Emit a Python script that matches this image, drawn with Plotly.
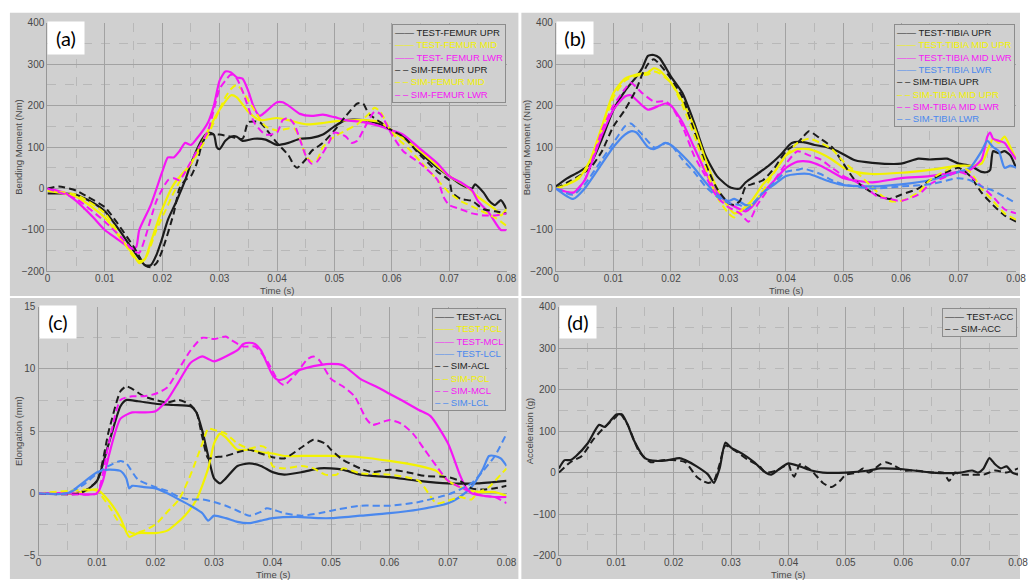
import plotly.graph_objects as go

# ---------------- Panel (a): femur bending moment (Nm) ----------------
a_test_upr_t = [0, 0.003, 0.005, 0.008, 0.010, 0.0125, 0.015, 0.017, 0.018, 0.019, 0.020, 0.021, 0.0225, 0.024, 0.025, 0.027, 0.028, 0.029, 0.0295, 0.030, 0.031, 0.032, 0.033, 0.034, 0.036, 0.038, 0.040, 0.042, 0.044, 0.046, 0.048, 0.050, 0.052, 0.055, 0.058, 0.060, 0.062, 0.065, 0.068, 0.070, 0.072, 0.074, 0.0745, 0.076, 0.077, 0.078, 0.079, 0.080]
a_test_upr_v = [-12, -12, -15, -35, -55, -100, -150, -185, -185, -160, -120, -75, -30, 20, 60, 120, 135, 130, 100, 95, 115, 125, 125, 115, 120, 118, 105, 110, 120, 122, 130, 150, 165, 165, 155, 140, 125, 85, 50, 30, 10, 0, 10, -10, -30, -40, -28, -50]

a_test_mid_t = [0, 0.005, 0.010, 0.013, 0.015, 0.016, 0.017, 0.018, 0.020, 0.022, 0.025, 0.028, 0.030, 0.032, 0.033, 0.035, 0.037, 0.040, 0.042, 0.045, 0.048, 0.050, 0.055, 0.058, 0.060, 0.065, 0.070, 0.073, 0.075, 0.078, 0.079, 0.080]
a_test_mid_v = [-5, -20, -70, -125, -160, -180, -170, -130, -50, 10, 60, 140, 190, 225, 220, 185, 165, 170, 165, 155, 158, 162, 165, 160, 140, 90, 30, 5, -20, -50, -65, -50]

a_test_lwr_t = [0, 0.003, 0.005, 0.008, 0.010, 0.012, 0.014, 0.015, 0.0155, 0.016, 0.018, 0.020, 0.021, 0.022, 0.023, 0.024, 0.025, 0.026, 0.028, 0.029, 0.030, 0.031, 0.032, 0.033, 0.034, 0.035, 0.036, 0.037, 0.038, 0.040, 0.041, 0.042, 0.044, 0.046, 0.048, 0.050, 0.052, 0.055, 0.058, 0.060, 0.062, 0.065, 0.068, 0.070, 0.072, 0.074, 0.075, 0.077, 0.079, 0.080]
a_test_lwr_v = [0, -10, -30, -70, -100, -120, -140, -145, -140, -100, -40, 40, 75, 75, 90, 110, 105, 120, 160, 200, 260, 282, 280, 268, 265, 235, 195, 175, 185, 208, 208, 200, 180, 175, 178, 172, 165, 160, 150, 140, 130, 95, 60, 30, 15, -5, -30, -60, -100, -100]

a_sim_upr_t = [0, 0.002, 0.005, 0.007, 0.010, 0.012, 0.015, 0.017, 0.018, 0.019, 0.020, 0.022, 0.023, 0.024, 0.025, 0.026, 0.027, 0.028, 0.030, 0.032, 0.034, 0.035, 0.037, 0.038, 0.040, 0.042, 0.043, 0.0435, 0.045, 0.046, 0.048, 0.050, 0.052, 0.054, 0.055, 0.056, 0.058, 0.060, 0.062, 0.065, 0.068, 0.070, 0.0705, 0.072, 0.074, 0.076, 0.078, 0.080]
a_sim_upr_v = [0, 5, -5, -20, -45, -80, -140, -185, -190, -180, -150, -60, 0, 20, 30, 60, 110, 130, 130, 125, 120, 160, 160, 145, 110, 80, 55, 50, 70, 90, 110, 140, 175, 205, 205, 180, 160, 140, 125, 80, 40, 20, -10, -25, -30, -50, -55, -60]

a_sim_mid_t = [0, 0.005, 0.010, 0.015, 0.016, 0.017, 0.019, 0.021, 0.022, 0.024, 0.026, 0.028, 0.030, 0.031, 0.032, 0.033, 0.034, 0.036, 0.038, 0.040, 0.042, 0.043, 0.044, 0.045, 0.046, 0.047, 0.048, 0.050, 0.052, 0.054, 0.056, 0.057, 0.058, 0.060, 0.063, 0.065, 0.068, 0.070, 0.072, 0.075, 0.078, 0.080]
a_sim_mid_v = [-5, -15, -60, -165, -175, -170, -100, -40, -10, 40, 80, 130, 190, 220, 240, 250, 235, 190, 150, 140, 145, 145, 120, 80, 65, 70, 100, 125, 140, 155, 180, 195, 185, 135, 95, 65, 20, -10, -30, -50, -70, -90]

a_sim_lwr_t = [0, 0.005, 0.010, 0.013, 0.015, 0.016, 0.017, 0.019, 0.021, 0.022, 0.023, 0.024, 0.026, 0.028, 0.030, 0.031, 0.032, 0.033, 0.034, 0.036, 0.038, 0.040, 0.041, 0.042, 0.043, 0.045, 0.046, 0.047, 0.049, 0.050, 0.052, 0.053, 0.054, 0.055, 0.057, 0.058, 0.060, 0.062, 0.065, 0.068, 0.069, 0.070, 0.072, 0.074, 0.076, 0.078, 0.080]
a_sim_lwr_v = [0, -25, -80, -120, -150, -155, -120, -30, 20, 25, 20, 40, 90, 140, 240, 260, 275, 265, 235, 160, 130, 135, 165, 170, 155, 80, 60, 65, 110, 135, 125, 110, 115, 140, 185, 180, 130, 90, 60, 20, -20, -40, -50, -60, -65, -65, -60]

# ---------------- Panel (b): tibia bending moment (Nm) ----------------
b_test_upr_t = [0, 0.002, 0.004, 0.006, 0.008, 0.010, 0.012, 0.014, 0.015, 0.016, 0.017, 0.018, 0.020, 0.022, 0.024, 0.026, 0.028, 0.030, 0.031, 0.032, 0.033, 0.035, 0.037, 0.039, 0.041, 0.043, 0.045, 0.047, 0.049, 0.052, 0.055, 0.060, 0.063, 0.065, 0.068, 0.070, 0.072, 0.074, 0.075, 0.0755, 0.076, 0.077, 0.078, 0.079, 0.080]
b_test_upr_v = [5, 25, 40, 60, 120, 190, 235, 270, 290, 320, 322, 315, 270, 230, 160, 80, 30, 5, 0, 0, 15, 35, 55, 80, 110, 112, 105, 100, 90, 68, 62, 60, 72, 70, 72, 60, 55, 40, 40, 45, 90, 85, 90, 80, 50]

b_test_midupr_t = [0, 0.002, 0.004, 0.006, 0.008, 0.010, 0.012, 0.014, 0.016, 0.017, 0.018, 0.020, 0.022, 0.024, 0.026, 0.028, 0.030, 0.031, 0.032, 0.034, 0.036, 0.038, 0.040, 0.042, 0.044, 0.046, 0.048, 0.050, 0.052, 0.055, 0.060, 0.065, 0.070, 0.072, 0.074, 0.075, 0.076, 0.077, 0.078, 0.079, 0.080]
b_test_midupr_v = [0, 10, 25, 70, 150, 230, 265, 275, 280, 290, 285, 255, 210, 150, 70, 0, -45, -60, -55, -30, 10, 40, 80, 95, 95, 85, 70, 50, 40, 35, 38, 45, 55, 55, 60, 90, 120, 110, 125, 100, 70]

b_test_midlwr_t = [0, 0.003, 0.005, 0.008, 0.010, 0.012, 0.013, 0.015, 0.016, 0.018, 0.019, 0.020, 0.022, 0.024, 0.026, 0.028, 0.030, 0.032, 0.033, 0.034, 0.036, 0.038, 0.040, 0.042, 0.044, 0.046, 0.048, 0.050, 0.055, 0.060, 0.065, 0.070, 0.072, 0.074, 0.075, 0.0755, 0.076, 0.077, 0.078, 0.079, 0.080]
b_test_midlwr_v = [0, -10, 20, 130, 190, 222, 225, 200, 190, 200, 205, 200, 160, 100, 40, -10, -35, -50, -55, -45, -10, 20, 50, 65, 65, 55, 40, 25, 15, 25, 30, 40, 45, 70, 125, 135, 120, 115, 110, 90, 70]

b_test_lwr_t = [0, 0.003, 0.005, 0.008, 0.010, 0.012, 0.013, 0.014, 0.016, 0.017, 0.019, 0.020, 0.022, 0.024, 0.026, 0.028, 0.030, 0.031, 0.033, 0.034, 0.036, 0.038, 0.040, 0.042, 0.044, 0.046, 0.048, 0.050, 0.055, 0.060, 0.065, 0.070, 0.072, 0.074, 0.075, 0.076, 0.077, 0.078, 0.079, 0.080]
b_test_lwr_v = [0, -25, 0, 60, 100, 130, 138, 135, 100, 95, 110, 105, 80, 50, 15, -15, -30, -25, -40, -40, -10, 10, 30, 35, 35, 25, 15, 8, 5, 10, 20, 40, 50, 90, 115, 100, 90, 50, 55, 50]

b_sim_upr_t = [0, 0.002, 0.004, 0.006, 0.008, 0.010, 0.012, 0.014, 0.015, 0.016, 0.017, 0.018, 0.020, 0.022, 0.024, 0.026, 0.028, 0.030, 0.031, 0.032, 0.033, 0.034, 0.036, 0.038, 0.040, 0.042, 0.043, 0.044, 0.046, 0.048, 0.050, 0.052, 0.055, 0.058, 0.060, 0.063, 0.065, 0.068, 0.070, 0.072, 0.074, 0.076, 0.078, 0.080]
b_sim_upr_v = [0, 15, 30, 50, 90, 150, 190, 240, 275, 300, 312, 300, 265, 220, 140, 60, 0, -35, -40, -30, 5, 10, 20, 50, 90, 110, 125, 138, 120, 100, 60, 20, -10, -25, -15, 0, 20, 40, 50, 30, -10, -40, -65, -80]

b_sim_midupr_t = [0, 0.002, 0.005, 0.008, 0.010, 0.012, 0.014, 0.016, 0.017, 0.018, 0.020, 0.022, 0.024, 0.026, 0.028, 0.030, 0.031, 0.032, 0.034, 0.036, 0.038, 0.040, 0.042, 0.044, 0.046, 0.048, 0.050, 0.053, 0.056, 0.058, 0.060, 0.063, 0.065, 0.068, 0.070, 0.072, 0.074, 0.076, 0.078, 0.080]
b_sim_midupr_v = [0, 10, 40, 140, 220, 260, 272, 275, 282, 278, 255, 200, 130, 50, -20, -60, -70, -55, -40, -5, 40, 80, 110, 120, 110, 95, 65, 30, -10, -30, -30, -10, 20, 45, 55, 40, 0, -30, -60, -75]

b_sim_midlwr_t = [0, 0.003, 0.005, 0.008, 0.010, 0.012, 0.013, 0.015, 0.017, 0.019, 0.020, 0.022, 0.024, 0.026, 0.028, 0.030, 0.032, 0.0335, 0.035, 0.037, 0.040, 0.042, 0.044, 0.046, 0.048, 0.050, 0.053, 0.056, 0.058, 0.060, 0.063, 0.065, 0.068, 0.070, 0.072, 0.074, 0.076, 0.078, 0.080]
b_sim_midlwr_v = [0, -10, 20, 140, 200, 240, 255, 230, 210, 210, 200, 150, 80, 30, -20, -45, -60, -80, -40, 0, 60, 90, 80, 70, 50, 30, 10, -20, -25, -30, -15, 10, 30, 40, 30, 5, -20, -50, -60]

b_sim_lwr_t = [0, 0.003, 0.005, 0.008, 0.010, 0.012, 0.013, 0.015, 0.017, 0.018, 0.019, 0.020, 0.022, 0.024, 0.026, 0.028, 0.030, 0.032, 0.033, 0.034, 0.036, 0.038, 0.040, 0.042, 0.043, 0.046, 0.048, 0.050, 0.055, 0.060, 0.065, 0.070, 0.072, 0.074, 0.076, 0.078, 0.080]
b_sim_lwr_v = [0, -15, 10, 70, 110, 150, 157, 130, 100, 100, 110, 105, 70, 40, 5, -20, -35, -40, -50, -40, -10, 15, 40, 45, 48, 35, 20, 10, 0, 5, 10, 25, 20, 5, -5, -20, -35]

# ---------------- Panel (c): ligament elongation (mm) ----------------
c_test_acl_t = [0, 0.006, 0.008, 0.010, 0.012, 0.014, 0.015, 0.017, 0.020, 0.023, 0.026, 0.027, 0.028, 0.029, 0.030, 0.031, 0.032, 0.034, 0.036, 0.038, 0.040, 0.042, 0.045, 0.048, 0.050, 0.052, 0.055, 0.060, 0.065, 0.070, 0.075, 0.080]
c_test_acl_v = [0, 0, 0.2, 1.0, 4.0, 7.0, 7.5, 7.4, 7.2, 7.1, 7.0, 6.5, 5.0, 3.0, 1.2, 0.8, 1.2, 2.2, 2.4, 2.2, 1.7, 1.5, 1.7, 2.0, 2.0, 1.9, 1.5, 1.3, 1.0, 0.8, 0.8, 1.0]

c_test_pcl_t = [0, 0.006, 0.010, 0.012, 0.014, 0.0155, 0.017, 0.020, 0.022, 0.025, 0.027, 0.029, 0.030, 0.031, 0.032, 0.034, 0.036, 0.038, 0.040, 0.042, 0.045, 0.050, 0.055, 0.060, 0.065, 0.068, 0.070, 0.072, 0.074, 0.076, 0.078, 0.080]
c_test_pcl_v = [0, 0, 0.3, -0.6, -2.0, -3.5, -3.2, -3.2, -3.0, -1.8, -0.5, 2.0, 4.0, 4.8, 4.5, 3.5, 3.5, 3.3, 3.2, 3.0, 3.0, 3.0, 2.9, 2.6, 2.2, 1.8, 1.0, 0.5, 0.2, 0.1, 0.1, -0.2]

c_test_mcl_t = [0, 0.006, 0.008, 0.010, 0.011, 0.012, 0.014, 0.016, 0.018, 0.020, 0.022, 0.024, 0.026, 0.028, 0.029, 0.030, 0.032, 0.034, 0.035, 0.036, 0.037, 0.038, 0.040, 0.041, 0.042, 0.044, 0.046, 0.048, 0.050, 0.052, 0.055, 0.058, 0.060, 0.062, 0.065, 0.067, 0.070, 0.072, 0.073, 0.074, 0.076, 0.078, 0.080]
c_test_mcl_v = [0, 0, -0.1, 0, 1.0, 3.0, 6.0, 6.5, 6.5, 6.6, 7.5, 9.0, 10.5, 11.0, 10.8, 10.6, 11.0, 11.5, 12.0, 12.1, 12.0, 11.5, 9.5, 9.1, 9.2, 9.8, 10.1, 10.3, 10.4, 10.3, 9.2, 8.5, 8.0, 7.5, 6.7, 6.2, 4.0, 1.5, 0.5, 0.0, -0.2, -0.3, -0.3]

c_test_lcl_t = [0, 0.005, 0.008, 0.010, 0.012, 0.014, 0.015, 0.0155, 0.016, 0.018, 0.020, 0.022, 0.024, 0.026, 0.028, 0.029, 0.030, 0.032, 0.034, 0.036, 0.038, 0.040, 0.044, 0.048, 0.050, 0.055, 0.060, 0.065, 0.070, 0.072, 0.074, 0.076, 0.077, 0.078, 0.079, 0.080]
c_test_lcl_v = [0, 0, 1.0, 1.7, 1.9, 1.8, 1.2, 0.4, 0.6, 0.5, 0.4, 0.0, -0.5, -1.0, -1.6, -2.2, -1.8, -2.0, -2.3, -2.4, -2.2, -2.0, -1.9, -2.0, -2.0, -1.8, -1.6, -1.3, -0.8, -0.3, 0.5, 2.0, 3.0, 3.0, 2.8, 2.2]

c_sim_acl_t = [0, 0.007, 0.010, 0.012, 0.014, 0.015, 0.016, 0.018, 0.020, 0.022, 0.024, 0.026, 0.027, 0.028, 0.029, 0.030, 0.032, 0.034, 0.036, 0.038, 0.040, 0.042, 0.045, 0.047, 0.049, 0.050, 0.052, 0.055, 0.057, 0.060, 0.063, 0.066, 0.070, 0.072, 0.074, 0.076, 0.078, 0.080]
c_sim_acl_v = [0, 0, 1.0, 5.0, 8.2, 8.6, 8.4, 7.8, 7.5, 7.3, 7.5, 7.1, 6.5, 4.5, 2.8, 2.9, 3.0, 3.3, 3.5, 3.2, 2.9, 2.8, 3.7, 4.3, 4.0, 3.5, 2.7, 2.0, 1.7, 1.9, 1.7, 1.4, 1.3, 1.0, 0.4, 0.3, 0.4, 0.6]

c_sim_pcl_t = [0, 0.009, 0.010, 0.012, 0.014, 0.016, 0.018, 0.020, 0.022, 0.024, 0.026, 0.028, 0.029, 0.030, 0.032, 0.034, 0.036, 0.038, 0.039, 0.040, 0.042, 0.045, 0.047, 0.049, 0.051, 0.052, 0.055, 0.060, 0.065, 0.068, 0.070, 0.072, 0.074, 0.075, 0.077, 0.079, 0.080]
c_sim_pcl_v = [0, 0.3, 0.2, -1.0, -2.5, -3.2, -3.0, -2.5, -1.5, -0.5, 1.5, 4.0, 5.2, 5.1, 4.8, 4.0, 3.6, 3.8, 3.6, 2.2, 2.0, 2.2, 2.0, 1.5, 1.5, 2.0, 1.6, 1.5, 1.0, -0.8, -0.6, -0.3, -0.5, 0.0, 0.5, 1.5, 2.0]

c_sim_mcl_t = [0, 0.008, 0.010, 0.012, 0.014, 0.016, 0.018, 0.020, 0.022, 0.024, 0.026, 0.028, 0.030, 0.032, 0.033, 0.035, 0.037, 0.039, 0.041, 0.042, 0.044, 0.046, 0.047, 0.048, 0.050, 0.052, 0.054, 0.056, 0.057, 0.058, 0.060, 0.062, 0.064, 0.066, 0.068, 0.070, 0.072, 0.074, 0.076, 0.078, 0.080]
c_sim_mcl_v = [0, -0.1, 0, 4.0, 7.5, 7.8, 7.8, 8.0, 8.5, 10.0, 11.5, 12.5, 12.4, 12.6, 12.3, 11.8, 11.8, 10.7, 9.0, 8.7, 9.6, 10.8, 11.0, 10.7, 9.2, 8.6, 7.8, 6.0, 5.5, 5.6, 5.9, 5.6, 4.8, 3.5, 2.2, 1.0, 0.5, 0.1, -0.2, -0.3, -0.8]

c_sim_lcl_t = [0, 0.005, 0.008, 0.010, 0.012, 0.014, 0.015, 0.017, 0.020, 0.022, 0.024, 0.026, 0.028, 0.030, 0.032, 0.034, 0.036, 0.038, 0.039, 0.040, 0.042, 0.045, 0.048, 0.050, 0.055, 0.060, 0.065, 0.070, 0.072, 0.074, 0.076, 0.078, 0.080]
c_sim_lcl_v = [0, 0, 0.8, 1.6, 2.2, 2.6, 2.4, 1.1, 0.5, 0.2, -0.3, -0.5, -0.5, -0.7, -1.0, -1.4, -1.8, -1.5, -1.2, -1.3, -1.6, -1.8, -1.6, -1.4, -1.0, -1.0, -0.7, -0.1, 0.3, 0.8, 1.8, 3.0, 4.8]

# ---------------- Panel (d): acceleration (g) ----------------
d_test_t = [0, 0.001, 0.002, 0.003, 0.005, 0.007, 0.008, 0.009, 0.010, 0.011, 0.012, 0.013, 0.015, 0.017, 0.019, 0.021, 0.022, 0.024, 0.026, 0.027, 0.028, 0.029, 0.030, 0.032, 0.034, 0.036, 0.037, 0.039, 0.040, 0.042, 0.044, 0.046, 0.050, 0.054, 0.056, 0.060, 0.065, 0.070, 0.072, 0.073, 0.074, 0.075, 0.076, 0.077, 0.078, 0.079, 0.080]
d_test_v = [10, 30, 30, 40, 70, 115, 110, 125, 140, 140, 115, 80, 35, 28, 30, 35, 30, 15, -5, -25, 10, 72, 60, 45, 25, 0, -5, 15, 22, 15, 5, 0, 0, 5, 10, 8, 0, 0, 5, 0, 10, 35, 20, 10, 15, 0, -5]

d_sim_t = [0, 0.002, 0.004, 0.006, 0.008, 0.010, 0.0105, 0.012, 0.014, 0.016, 0.018, 0.020, 0.022, 0.024, 0.025, 0.026, 0.027, 0.028, 0.029, 0.031, 0.033, 0.035, 0.036, 0.038, 0.040, 0.0405, 0.041, 0.0415, 0.042, 0.044, 0.046, 0.0475, 0.049, 0.050, 0.052, 0.053, 0.054, 0.056, 0.057, 0.058, 0.060, 0.062, 0.065, 0.067, 0.068, 0.069, 0.070, 0.072, 0.074, 0.076, 0.078, 0.080]
d_sim_v = [0, 25, 40, 80, 110, 135, 145, 115, 50, 25, 30, 30, 25, -10, -20, -25, -20, 20, 65, 50, 30, 15, 0, 5, 20, 0, -10, 5, 20, 5, -25, -35, -20, -5, 0, 10, 0, 20, 25, 20, 5, 5, 0, 0, -20, 0, -5, -5, -5, 5, 0, 10]

# ---------------- styling ----------------
BLACK = "#1c1c1c"
YELLOW = "#f2f200"
MAGENTA = "#f516f5"
BLUE = "#4a88ee"
PANEL = "#d0d0d0"
W, H = 1030, 585

def px_x(p):
    return p / W

def px_y(p):
    return 1 - p / H

panels = [
    dict(key="a", xd=[45, 510], yd=[17, 271], yr=[-200, 400], dt=100, mdt=50,
         ytitle="Bending Moment (Nm)", ytx=15, xtt=(278, 290.5),
         series=[
             ("TEST-FEMUR UPR", a_test_upr_t, a_test_upr_v, BLACK, "solid"),
             ("TEST-FEMUR MID", a_test_mid_t, a_test_mid_v, YELLOW, "solid"),
             ("TEST- FEMUR LWR", a_test_lwr_t, a_test_lwr_v, MAGENTA, "solid"),
             ("SIM-FEMUR UPR", a_sim_upr_t, a_sim_upr_v, BLACK, "dash"),
             ("SIM-FEMUR MID", a_sim_mid_t, a_sim_mid_v, YELLOW, "dash"),
             ("SIM-FEMUR LWR", a_sim_lwr_t, a_sim_lwr_v, MAGENTA, "dash"),
         ]),
    dict(key="b", xd=[560, 1026], yd=[17, 271], yr=[-200, 400], dt=100, mdt=50,
         ytitle="Bending Moment (Nm)", ytx=530, xtt=(793, 290.5),
         series=[
             ("TEST-TIBIA UPR", b_test_upr_t, b_test_upr_v, BLACK, "solid"),
             ("TEST-TIBIA MID UPR", b_test_midupr_t, b_test_midupr_v, YELLOW, "solid"),
             ("TEST-TIBIA MID LWR", b_test_midlwr_t, b_test_midlwr_v, MAGENTA, "solid"),
             ("TEST-TIBIA LWR", b_test_lwr_t, b_test_lwr_v, BLUE, "solid"),
             ("SIM-TIBIA UPR", b_sim_upr_t, b_sim_upr_v, BLACK, "dash"),
             ("SIM-TIBIA MID UPR", b_sim_midupr_t, b_sim_midupr_v, YELLOW, "dash"),
             ("SIM-TIBIA MID LWR", b_sim_midlwr_t, b_sim_midlwr_v, MAGENTA, "dash"),
             ("SIM-TIBIA LWR", b_sim_lwr_t, b_sim_lwr_v, BLUE, "dash"),
         ]),
    dict(key="c", xd=[36, 510], yd=[307, 561], yr=[-5, 15], dt=5, mdt=2.5,
         ytitle="Elongation (mm)", ytx=15, xtt=(273, 580),
         series=[
             ("TEST-ACL", c_test_acl_t, c_test_acl_v, BLACK, "solid"),
             ("TEST-PCL", c_test_pcl_t, c_test_pcl_v, YELLOW, "solid"),
             ("TEST-MCL", c_test_mcl_t, c_test_mcl_v, MAGENTA, "solid"),
             ("TEST-LCL", c_test_lcl_t, c_test_lcl_v, BLUE, "solid"),
             ("SIM-ACL", c_sim_acl_t, c_sim_acl_v, BLACK, "dash"),
             ("SIM-PCL", c_sim_pcl_t, c_sim_pcl_v, YELLOW, "dash"),
             ("SIM-MCL", c_sim_mcl_t, c_sim_mcl_v, MAGENTA, "dash"),
             ("SIM-LCL", c_sim_lcl_t, c_sim_lcl_v, BLUE, "dash"),
         ]),
    dict(key="d", xd=[563, 1028], yd=[307, 561], yr=[-200, 400], dt=100, mdt=50,
         ytitle="Acceleration (g)", ytx=533, xtt=(795, 580),
         series=[
             ("TEST-ACC", d_test_t, d_test_v, BLACK, "solid"),
             ("SIM-ACC", d_sim_t, d_sim_v, BLACK, "dash"),
         ]),
]

fig = go.Figure()
shapes = []
annotations = []

# gray panel backgrounds
for (x0, x1, y0, y1) in [(7, 522, 7, 296), (525, 1030, 7, 296), (7, 522, 298, 585), (525, 1030, 298, 585)]:
    shapes.append(dict(type="rect", xref="paper", yref="paper", layer="below",
                       x0=px_x(x0), x1=px_x(x1), y0=px_y(y1), y1=px_y(y0),
                       fillcolor=PANEL, line=dict(width=0)))

tick_font = dict(family="Liberation Sans, Arial, sans-serif", size=10, color="#484848")
xticks = [0, 0.01, 0.02, 0.03, 0.04, 0.05, 0.06, 0.07, 0.08]
xticktext = ["0", "0.01", "0.02", "0.03", "0.04", "0.05", "0.06", "0.07", "0.08"]

for i, p in enumerate(panels, start=1):
    xa = "x" if i == 1 else f"x{i}"
    ya = "y" if i == 1 else f"y{i}"
    xkey = "xaxis" if i == 1 else f"xaxis{i}"
    ykey = "yaxis" if i == 1 else f"yaxis{i}"
    for name, t, v, col, dash in p["series"]:
        fig.add_trace(go.Scatter(
            x=t, y=v, name=name, mode="lines", xaxis=xa, yaxis=ya, showlegend=False,
            line=dict(color=col, width=2.2 if dash == "solid" else 2.0,
                      dash="solid" if dash == "solid" else "7px,4px",
                      shape="spline", smoothing=0.6)))
    fig.update_layout(**{
        xkey: dict(domain=[px_x(p["xd"][0]), px_x(p["xd"][1])], anchor=ya,
                   range=[0, 0.08], tickmode="array", tickvals=xticks, ticktext=xticktext,
                   showgrid=True, gridcolor="#a2a2a2", gridwidth=1.3,
                   zeroline=False, showline=True, linecolor="#979797", linewidth=1.3,
                   ticks="", tickfont=tick_font, fixedrange=True, ticklabelstandoff=-3,
                   minor=dict(tickvals=[0.005 + 0.01 * k for k in range(8)], showgrid=True,
                              gridcolor="#b8b8b8", griddash="dash", gridwidth=1)),
        ykey: dict(domain=[px_y(p["yd"][1]), px_y(p["yd"][0])], anchor=xa,
                   range=p["yr"], dtick=p["dt"], tick0=0,
                   showgrid=True, gridcolor="#a2a2a2", gridwidth=1.3,
                   zeroline=True, zerolinecolor="#a2a2a2", zerolinewidth=1.3,
                   showline=True, linecolor="#979797", linewidth=1.3,
                   ticks="", tickfont=tick_font, fixedrange=True,
                   minor=dict(dtick=p["mdt"], showgrid=True,
                              gridcolor="#b8b8b8", griddash="dash", gridwidth=1)),
    })

    dom_x = "x domain" if i == 1 else f"x{i} domain"
    dom_y = "y domain" if i == 1 else f"y{i} domain"

    # panel letter box
    annotations.append(dict(xref=dom_x, yref=dom_y, x=0, y=1, xanchor="left", yanchor="top",
                            yshift=2, text=f"({p['key']})", showarrow=False,
                            bgcolor="white", width=36, height=32, borderpad=0,
                            font=dict(family="Lato, Open Sans, sans-serif", size=20, color="black")))

    # legend box (text-drawn legend to match the compact original spacing)
    lines = []
    for name, t, v, col, dash in p["series"]:
        sample = "——" if dash == "solid" else "– –"
        lines.append(f'<span style="color:{col}">{sample} {name}</span>')
    annotations.append(dict(xref=dom_x, yref=dom_y, x=1, y=1, xanchor="right", yanchor="top",
                            xshift=-1, yshift=-1,
                            text="<br>".join(lines), showarrow=False, align="left",
                            bgcolor=PANEL, bordercolor="#8c8c8c", borderwidth=1, borderpad=2,
                            font=dict(family="Liberation Sans, Arial, sans-serif", size=9.5, color=BLACK)))

    # axis titles
    yc = (p["yd"][0] + p["yd"][1]) / 2
    annotations.append(dict(xref="paper", yref="paper", x=px_x(p["ytx"]), y=px_y(yc),
                            xanchor="center", yanchor="middle", textangle=-90,
                            text=p["ytitle"], showarrow=False,
                            font=dict(family="Liberation Sans, Arial, sans-serif", size=9.5, color="#484848")))
    annotations.append(dict(xref="paper", yref="paper", x=px_x(p["xtt"][0]), y=px_y(p["xtt"][1]),
                            xanchor="center", yanchor="middle",
                            text="Time (s)", showarrow=False,
                            font=dict(family="Liberation Sans, Arial, sans-serif", size=9.5, color="#484848")))

fig.update_layout(width=W, height=H, margin=dict(l=0, r=0, t=0, b=0),
                  paper_bgcolor="white", plot_bgcolor=PANEL,
                  shapes=shapes, annotations=annotations, showlegend=False)

fig.write_html("out.html", config={"displayModeBar": False},
               post_script="document.body.style.margin='0';document.body.style.overflow='hidden';")
